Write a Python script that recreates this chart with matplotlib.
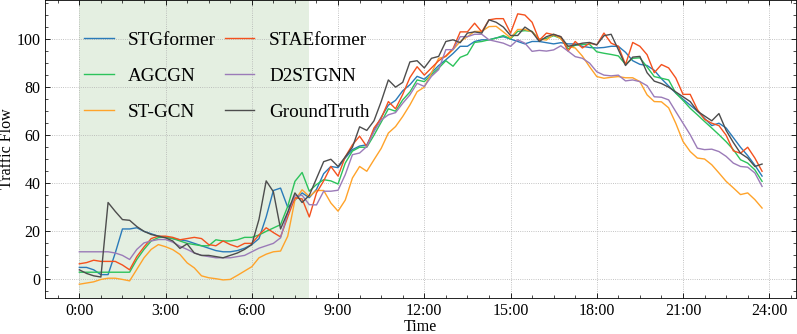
import numpy as np
import matplotlib
matplotlib.use('Agg')
from matplotlib import pyplot as plt
from matplotlib.ticker import MultipleLocator, AutoMinorLocator, FuncFormatter

# 15-minute steps over one day (hours)
hours = np.arange(96) * 0.25

stgformer = [5, 5, 4, 2, 2, 11, 21, 21, 21.5, 20, 19, 18,
             17.5, 17, 16.5, 16, 15, 14, 13, 12, 11.5, 11.5, 12, 13,
             14.5, 17, 26, 37, 38, 30, 33, 36, 34, 37.5, 44, 47,
             46.5, 50.5, 54, 55.5, 56, 62, 67.5, 72.5, 74.5, 78.5, 81, 84.5,
             83.3, 86, 89, 91.4, 94, 97, 97, 99, 99.7, 99.7, 100.5, 101,
             100, 99, 98, 99, 99, 98.5, 98, 98.5, 98, 98, 97, 96.5,
             96.3, 96.5, 97, 97, 94.5, 91, 89.5, 89, 87, 83.5, 80.5, 77.5,
             75, 72.5, 70, 67, 64, 65, 63, 59, 55, 51.5, 47.5, 43]
staeformer = [6.5, 7, 8, 7.5, 7.5, 7.5, 6, 4, 9.5, 13.5, 17, 18,
              18, 17.5, 16.5, 17, 17.5, 17, 14.5, 14, 16, 14.5, 13.5, 15,
              15, 18.5, 21.5, 19.5, 17.7, 26, 34, 33.5, 26, 36, 41, 47,
              43, 51, 56, 59.6, 55.3, 63, 67, 74, 71, 77, 84, 88.5,
              85, 88, 91, 93, 96, 103, 103, 106.6, 103, 108, 108.5, 108.5,
              102.5, 110.5, 110, 107, 99.5, 102.5, 101.8, 101, 95, 99, 96.3, 98.3,
              97.6, 102.5, 98.3, 97, 89.4, 98.6, 97, 93.5, 86, 89.4, 88, 83.8,
              77, 77, 70.7, 66.6, 65, 64, 60, 53.5, 52.5, 55, 50.5, 45]
agcgn = [3, 3, 3, 3, 3, 3, 3, 3, 8.3, 12.5, 16, 17.4,
         17.7, 17, 16, 15, 14.5, 14, 14, 16.5, 16, 16, 16.5, 17.5,
         17.5, 18.5, 20, 21.4, 22.8, 30.4, 40.8, 44.5, 36.7, 39.5, 41.5, 41,
         39.7, 48.4, 53.4, 55, 55, 60, 65.4, 71, 70, 74.7, 78, 83,
         82.3, 85.2, 87.9, 91, 88.7, 92.4, 93.6, 98.6, 99, 99.7, 100.4, 101.5,
         100.1, 103.2, 103.5, 103.2, 99.8, 100.3, 101.4, 100.3, 96, 97.4, 97.8, 97.8,
         94.7, 94.1, 93.6, 93, 89.5, 92, 92.2, 88.4, 84.4, 83.7, 83, 77.5,
         74.5, 71.2, 68.5, 65.7, 63, 60.2, 57.3, 54, 49.8, 48.4, 45.6, 40.8]
d2stgnn = [11.5, 11.5, 11.5, 11.5, 11.5, 11, 10, 8.3, 12.5, 15.2, 16, 16.6,
           16.6, 15.5, 13.8, 12.5, 11, 10, 9.5, 9, 9, 9, 9.5, 10,
           11.5, 13, 14, 15, 17.3, 27.6, 34.8, 35, 31.1, 31, 36.7, 36.7,
           37.1, 43.6, 51.9, 52.6, 55.3, 61.5, 66.3, 68.5, 69.4, 73.3, 76.8, 81.6,
           80.3, 84.5, 87.3, 95.6, 95.6, 101, 101, 102, 102, 99.7, 99, 98.3,
           97, 99.7, 98.3, 94.9, 95.3, 95, 95.5, 97.2, 95, 92.7, 92, 90,
           86.4, 85, 84.7, 85, 82.6, 83, 82.3, 80.6, 76, 75.8, 74.7, 69.8,
           65, 60.2, 54.6, 54, 54.2, 53.2, 51.2, 48.4, 47, 46.7, 44.3, 38.7]
stgcn = [-2, -1.5, -1, 0, 0.5, 0.5, 0, -0.6, 4.2, 9, 12.5, 14.5,
         13.6, 12.4, 10.4, 6.9, 4.8, 1.5, 0.7, 0.3, -0.2, 0, 1.7, 3.5,
         5.3, 9, 10.5, 11.5, 11.8, 18, 33, 37.3, 34.5, 37, 37, 31.8,
         28.4, 33, 42.2, 47, 45, 49.8, 54.5, 60.9, 63.6, 67.8, 72.6, 78.1,
         80, 86, 92, 92.7, 95.6, 99, 101, 103.2, 103.2, 105.2, 105.3, 103,
         100.5, 104, 104, 103, 100, 99.6, 102, 100.1, 97, 96.3, 92.9, 88.5,
         84.4, 83.7, 84.1, 84.4, 83.9, 83.9, 82.3, 76.8, 74, 73.9, 71.4, 64.9,
         57.4, 53.2, 50.5, 50.1, 47.7, 44.3, 40.8, 38.1, 35.3, 36, 33.2, 29.7]
ground_truth = [4, 2.5, 1.5, 1, 32, 28.3, 24.9, 24.6, 22, 20, 18.7, 18,
                17.3, 16, 12.9, 14.8, 11, 10, 10, 9.5, 9, 10, 11, 12.5,
                14.5, 25, 41, 36.5, 21, 28, 36, 32, 35, 42, 49, 50,
                47, 51, 55, 63.5, 62, 66, 74, 83, 80, 82, 90.5, 91,
                88, 92, 92.8, 99, 99.7, 98.5, 102.5, 103, 102.5, 108, 107, 105,
                101.5, 101.5, 105, 103, 99, 101, 102, 101, 97, 97.6, 98.3, 98.6,
                97.6, 101.4, 102, 95.6, 89, 92.5, 92.8, 86, 82.5, 81.5, 80, 78,
                76, 74, 70, 68, 66, 69, 62, 57, 52.5, 50.5, 47, 48]

plt.rcParams['font.family'] = ['Liberation Serif', 'DejaVu Serif']
plt.rcParams['mathtext.fontset'] = 'stix'

fig = plt.figure(figsize=(7.97, 3.34), dpi=100)
ax = fig.add_axes([0.0567, 0.1087, 0.9423, 0.8923])

ax.axvspan(0, 8, color='#E4EFE1', zorder=0, lw=0)

ax.plot(hours, stgformer, color='#2A7AB9', lw=1.0, label='STGformer')
ax.plot(hours, agcgn, color='#2CC35B', lw=1.0, label='AGCGN')
ax.plot(hours, stgcn, color='#FFA32A', lw=1.0, label='ST-GCN')
ax.plot(hours, staeformer, color='#F4511E', lw=1.0, label='STAEformer')
ax.plot(hours, d2stgnn, color='#9B7BB8', lw=1.0, label='D2STGNN')
ax.plot(hours, ground_truth, color='#4D4D4D', lw=1.0, label='GroundTruth')

ax.set_xlim(-1.1875, 24.9375)
ax.set_ylim(-7.6, 116.4)
ax.xaxis.set_major_locator(MultipleLocator(3))
ax.xaxis.set_minor_locator(AutoMinorLocator(4))
ax.xaxis.set_major_formatter(FuncFormatter(lambda v, p: '%d:00' % int(round(v))))
ax.yaxis.set_major_locator(MultipleLocator(20))
ax.yaxis.set_minor_locator(AutoMinorLocator(4))

ax.tick_params(which='both', direction='in', top=True, right=True, labelsize=11.5)
ax.tick_params(which='major', length=3.5, width=0.6)
ax.tick_params(which='minor', length=2, width=0.5)
for s in ax.spines.values():
    s.set_linewidth(0.6)
ax.grid(True, which='major', ls=':', lw=0.6, color='#B0B0B0')

ax.set_xlabel('Time', fontsize=11.5, labelpad=0)
ax.set_ylabel('Traffic Flow', fontsize=11.5, labelpad=1)

ax.legend(ncol=2, frameon=False, fontsize=13.8, loc='upper left',
          bbox_to_anchor=(0.0418, 0.918), borderaxespad=0,
          handlelength=1.53, handletextpad=0.76, columnspacing=0.47,
          labelspacing=0.96)

fig.savefig('out.png', dpi=100)
